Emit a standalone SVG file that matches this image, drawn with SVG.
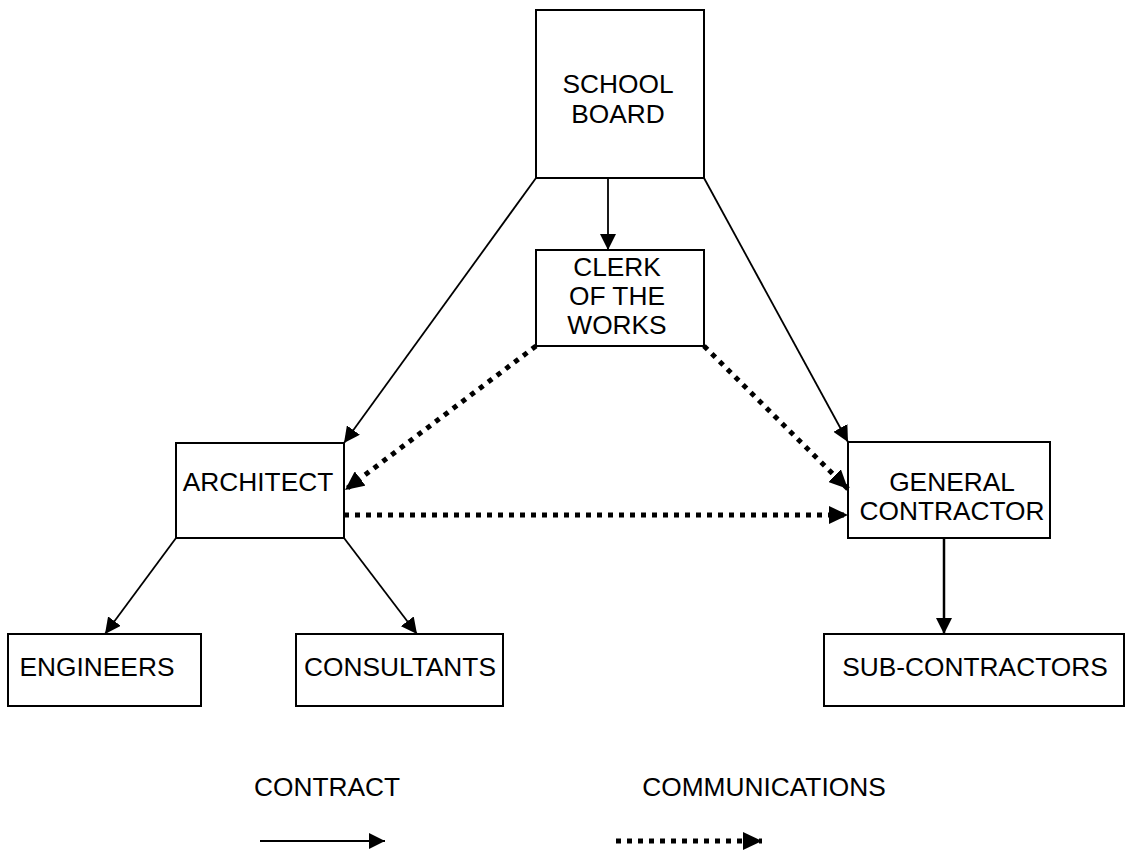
<svg xmlns="http://www.w3.org/2000/svg" width="1127" height="850" viewBox="0 0 1127 850">
<style>
.box{fill:#fff;stroke:#000;stroke-width:2}
.t{font-family:"Liberation Sans",Arial,sans-serif;font-size:26.3px;fill:#000;text-anchor:middle}
.c{fill:none;stroke:#000;stroke-width:1.8}
.d{fill:none;stroke:#000;stroke-width:5;stroke-dasharray:5 6}
</style>
<defs>
<marker id="a" markerUnits="userSpaceOnUse" markerWidth="16" markerHeight="16" viewBox="0 0 16 16" refX="16" refY="8" orient="auto">
<path d="M0,0 L16,8 L0,16 Z" fill="#000"/>
</marker>
<marker id="ad" markerUnits="userSpaceOnUse" markerWidth="19" markerHeight="18" viewBox="0 0 19 18" refX="19" refY="9" orient="auto">
<path d="M0,0 L19,9 L0,18 Z" fill="#000"/>
</marker>
</defs>
<g id="school-board"><rect class="box" x="536" y="10" width="168" height="168"/><text class="t" x="618" y="93">SCHOOL</text><text class="t" x="618" y="123">BOARD</text></g>
<g id="clerk"><rect class="box" x="536" y="250" width="168" height="96"/><text class="t" x="617" y="276">CLERK</text><text class="t" x="617" y="305">OF THE</text><text class="t" x="617" y="334">WORKS</text></g>
<g id="architect"><rect class="box" x="176" y="443" width="168" height="95"/><text class="t" x="258" y="491">ARCHITECT</text></g>
<g id="general-contractor"><rect class="box" x="848" y="442" width="202" height="96"/><text class="t" x="952" y="491">GENERAL</text><text class="t" x="952" y="520">CONTRACTOR</text></g>
<g id="engineers"><rect class="box" x="8" y="634" width="193" height="72"/><text class="t" x="97" y="676">ENGINEERS</text></g>
<g id="consultants"><rect class="box" x="296" y="634" width="207" height="72"/><text class="t" x="400" y="676">CONSULTANTS</text></g>
<g id="sub-contractors"><rect class="box" x="824" y="634" width="300" height="72"/><text class="t" x="975" y="676">SUB-CONTRACTORS</text></g>
<g id="legend"><text class="t" x="327" y="796">CONTRACT</text><text class="t" x="764" y="796">COMMUNICATIONS</text></g>
<g id="connectors">
<line class="c" x1="608" y1="178" x2="608" y2="250" marker-end="url(#a)"/>
<line class="c" x1="536" y1="178" x2="344" y2="443" marker-end="url(#a)"/>
<line class="c" x1="704" y1="178" x2="848" y2="442" marker-end="url(#a)"/>
<line class="d" x1="536" y1="346" x2="345" y2="490" marker-end="url(#ad)"/>
<line class="d" x1="704" y1="346" x2="848" y2="489" marker-end="url(#ad)"/>
<line class="d" x1="344" y1="515" x2="848" y2="515" marker-end="url(#ad)"/>
<line class="c" x1="176" y1="538" x2="105" y2="634" marker-end="url(#a)"/>
<line class="c" x1="344" y1="538" x2="417" y2="634" marker-end="url(#a)"/>
<line class="c" style="stroke-width:2.5" x1="944" y1="538" x2="944" y2="634" marker-end="url(#a)"/>
<line class="c" style="stroke-width:2" x1="260" y1="841" x2="385" y2="841" marker-end="url(#a)"/>
<line class="d" x1="616" y1="841" x2="762" y2="841" marker-end="url(#ad)"/>
</g>
</svg>
